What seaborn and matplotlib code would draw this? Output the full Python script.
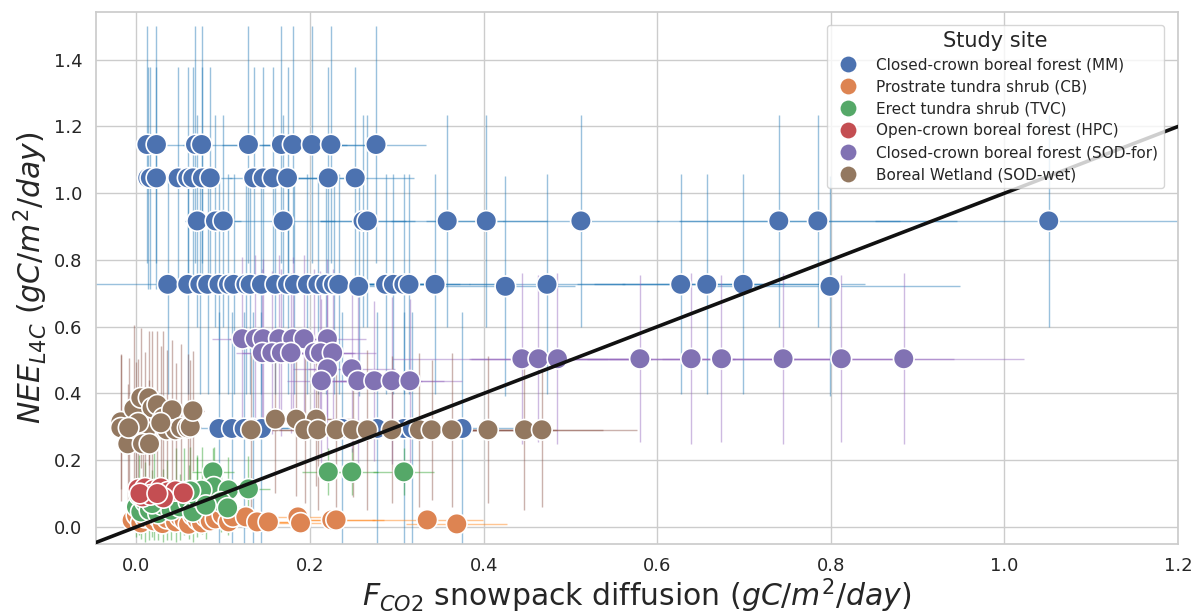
import numpy as np
import pandas as pd
import matplotlib
matplotlib.use("Agg")
import matplotlib.pyplot as plt
import seaborn as sns

# Study sites, in legend order
sites = [
    "Closed-crown boreal forest (MM)",
    "Prostrate tundra shrub (CB)",
    "Erect tundra shrub (TVC)",
    "Open-crown boreal forest (HPC)",
    "Closed-crown boreal forest (SOD-for)",
    "Boreal Wetland (SOD-wet)",
]

# ---- Closed-crown boreal forest (MM) ----
mm_x = [0.012, 0.023, 0.068, 0.075, 0.129, 0.167, 0.180, 0.202, 0.224, 0.276,
        0.013, 0.016, 0.023, 0.048, 0.059, 0.065, 0.076, 0.085, 0.135, 0.146, 0.157, 0.174, 0.221, 0.252,
        0.070, 0.091, 0.100, 0.169, 0.261, 0.266, 0.358, 0.403, 0.512, 0.740, 0.785, 1.051,
        0.036, 0.059, 0.073, 0.082, 0.095, 0.106, 0.112, 0.126, 0.131, 0.144, 0.160, 0.174, 0.182, 0.197,
        0.209, 0.218, 0.227, 0.233, 0.287, 0.296, 0.308, 0.314, 0.344, 0.473, 0.627, 0.657, 0.699,
        0.256, 0.425, 0.799,
        0.095, 0.110, 0.124, 0.134, 0.144, 0.237, 0.277, 0.308, 0.318, 0.375]
mm_y = [1.146, 1.146, 1.146, 1.146, 1.146, 1.146, 1.146, 1.146, 1.146, 1.146,
        1.046, 1.046, 1.046, 1.046, 1.046, 1.046, 1.046, 1.046, 1.046, 1.046, 1.046, 1.046, 1.046, 1.046,
        0.917, 0.917, 0.917, 0.917, 0.917, 0.917, 0.917, 0.917, 0.917, 0.917, 0.917, 0.917,
        0.727, 0.727, 0.727, 0.727, 0.727, 0.727, 0.727, 0.727, 0.727, 0.727, 0.727, 0.727, 0.727, 0.727,
        0.727, 0.727, 0.727, 0.727, 0.727, 0.727, 0.727, 0.727, 0.727, 0.727, 0.727, 0.727, 0.727,
        0.721, 0.721, 0.721,
        0.295, 0.295, 0.295, 0.295, 0.295, 0.295, 0.295, 0.295, 0.295, 0.295]
mm_xerr = [0.004, 0.006, 0.014, 0.045, 0.030, 0.028, 0.035, 0.040, 0.045, 0.057,
           0.004, 0.005, 0.006, 0.012, 0.015, 0.016, 0.020, 0.025, 0.028, 0.025, 0.030, 0.035, 0.040, 0.068,
           0.014, 0.016, 0.020, 0.060, 0.050, 0.055, 0.065, 0.070, 0.090, 0.140, 0.160, 0.200,
           0.090, 0.012, 0.015, 0.018, 0.020, 0.022, 0.025, 0.030, 0.028, 0.030, 0.035, 0.035, 0.040, 0.040,
           0.045, 0.045, 0.050, 0.050, 0.060, 0.060, 0.065, 0.070, 0.070, 0.090, 0.120, 0.130, 0.140,
           0.050, 0.080, 0.150,
           0.120, 0.020, 0.025, 0.025, 0.030, 0.045, 0.050, 0.060, 0.060, 0.070]
mm_yerr = [0.355, 0.355, 0.355, 0.355, 0.355, 0.355, 0.355, 0.355, 0.355, 0.355,
           0.333, 0.333, 0.333, 0.333, 0.333, 0.333, 0.333, 0.333, 0.333, 0.333, 0.333, 0.333, 0.333, 0.333,
           0.318, 0.318, 0.318, 0.318, 0.318, 0.318, 0.318, 0.318, 0.318, 0.318, 0.318, 0.318,
           0.330, 0.330, 0.330, 0.330, 0.330, 0.330, 0.330, 0.330, 0.330, 0.330, 0.330, 0.330, 0.330, 0.330,
           0.330, 0.330, 0.330, 0.330, 0.330, 0.330, 0.330, 0.330, 0.330, 0.330, 0.330, 0.330, 0.330,
           0.330, 0.330, 0.330,
           0.350, 0.350, 0.350, 0.350, 0.350, 0.350, 0.350, 0.350, 0.350, 0.350]

# ---- Prostrate tundra shrub (CB) ----
cb_x = [-0.005, 0.000, 0.005, 0.010, 0.015, 0.020, 0.025, 0.030, 0.035, 0.040, 0.045, 0.050,
        0.055, 0.060, 0.065, 0.070, 0.075, 0.080, 0.085, 0.091, 0.099, 0.106, 0.111, 0.126,
        0.139, 0.152, 0.186, 0.189, 0.225, 0.230, 0.335, 0.369]
cb_y = [0.020, 0.035, 0.012, 0.028, 0.040, 0.018, 0.030, 0.010, 0.025, 0.040, 0.015, 0.030,
        0.020, 0.008, 0.035, 0.022, 0.012, 0.030, 0.018, 0.024, 0.036, 0.015, 0.030, 0.030,
        0.015, 0.015, 0.030, 0.012, 0.021, 0.021, 0.021, 0.009]
cb_xerr = [0.003, 0.004, 0.004, 0.005, 0.006, 0.006, 0.007, 0.008, 0.008, 0.010, 0.010, 0.012,
           0.012, 0.014, 0.014, 0.016, 0.016, 0.018, 0.020, 0.020, 0.022, 0.025, 0.030, 0.030,
           0.035, 0.035, 0.045, 0.050, 0.050, 0.055, 0.064, 0.058]
cb_yerr = [0.008, 0.010, 0.008, 0.009, 0.010, 0.008, 0.009, 0.007, 0.009, 0.010, 0.008, 0.009,
           0.008, 0.006, 0.010, 0.008, 0.007, 0.009, 0.008, 0.008, 0.010, 0.007, 0.009, 0.009,
           0.007, 0.007, 0.009, 0.006, 0.008, 0.008, 0.008, 0.006]

# ---- Erect tundra shrub (TVC) ----
tvc_x = [0.088, 0.070, 0.089, 0.106, 0.097, 0.105, 0.129, 0.221, 0.248, 0.308,
         0.000, 0.005, 0.010, 0.015, 0.020, 0.025, 0.030, 0.035, 0.040, 0.045,
         0.050, 0.055, 0.060, 0.065, 0.070, 0.075, 0.080, 0.062, 0.003, 0.018]
tvc_y = [0.165, 0.105, 0.120, 0.111, 0.075, 0.057, 0.114, 0.165, 0.165, 0.165,
         0.060, 0.045, 0.075, 0.050, 0.090, 0.040, 0.065, 0.080, 0.050, 0.095,
         0.060, 0.105, 0.075, 0.045, 0.090, 0.110, 0.065, 0.108, 0.095, 0.070]
tvc_xerr = [0.024, 0.015, 0.020, 0.022, 0.018, 0.020, 0.025, 0.030, 0.030, 0.035,
            0.003, 0.004, 0.004, 0.005, 0.005, 0.006, 0.006, 0.007, 0.008, 0.008,
            0.009, 0.010, 0.010, 0.011, 0.012, 0.012, 0.013, 0.011, 0.003, 0.005]
tvc_yerr = [0.070, 0.110, 0.120, 0.100, 0.090, 0.080, 0.100, 0.070, 0.070, 0.070,
            0.090, 0.080, 0.120, 0.090, 0.130, 0.080, 0.110, 0.120, 0.090, 0.140,
            0.100, 0.130, 0.110, 0.090, 0.120, 0.130, 0.100, 0.130, 0.120, 0.100]

# ---- Open-crown boreal forest (HPC) ----
hpc_x = [0.002, 0.010, 0.020, 0.028, 0.036, 0.045, 0.054, 0.031, 0.007, 0.016, 0.004, 0.024]
hpc_y = [0.114, 0.117, 0.111, 0.117, 0.105, 0.108, 0.102, 0.087, 0.090, 0.096, 0.100, 0.100]
hpc_xerr = [0.003, 0.004, 0.005, 0.006, 0.007, 0.008, 0.009, 0.006, 0.003, 0.004, 0.003, 0.005]
hpc_yerr = [0.030, 0.030, 0.028, 0.030, 0.026, 0.028, 0.025, 0.022, 0.022, 0.024, 0.025, 0.025]

# ---- Closed-crown boreal forest (SOD-for) ----
sodf_x = [0.122, 0.137, 0.146, 0.164, 0.180, 0.193, 0.220,
          0.145, 0.156, 0.167, 0.178, 0.205, 0.212, 0.226,
          0.220, 0.248,
          0.213, 0.255, 0.274, 0.294, 0.315,
          0.444, 0.463, 0.485, 0.580, 0.639, 0.674, 0.745, 0.812, 0.884]
sodf_y = [0.564, 0.564, 0.564, 0.564, 0.564, 0.564, 0.564,
          0.522, 0.522, 0.522, 0.522, 0.522, 0.522, 0.522,
          0.474, 0.474,
          0.438, 0.438, 0.438, 0.438, 0.438,
          0.504, 0.504, 0.504, 0.504, 0.504, 0.504, 0.504, 0.504, 0.504]
sodf_xerr = [0.035, 0.030, 0.030, 0.035, 0.040, 0.040, 0.045,
             0.030, 0.035, 0.035, 0.040, 0.045, 0.040, 0.050,
             0.040, 0.050,
             0.040, 0.050, 0.055, 0.060, 0.060,
             0.150, 0.080, 0.100, 0.110, 0.120, 0.130, 0.140, 0.130, 0.138]
sodf_yerr = [0.245, 0.250, 0.240, 0.250, 0.245, 0.250, 0.240,
             0.250, 0.245, 0.250, 0.240, 0.250, 0.245, 0.250,
             0.240, 0.250,
             0.245, 0.250, 0.240, 0.250, 0.245,
             0.256, 0.250, 0.256, 0.250, 0.256, 0.250, 0.256, 0.250, 0.256]

# ---- Boreal Wetland (SOD-wet) ----
sodw_x = [-0.018, -0.018, -0.010, -0.003, 0.005, -0.001, 0.010, 0.007, 0.015, 0.014, 0.018, 0.024,
          0.031, 0.035, 0.041, 0.045, 0.051, 0.059, 0.062, 0.065, 0.028, 0.002, -0.009,
          0.160, 0.184, 0.207,
          0.132, 0.194, 0.209, 0.230, 0.249, 0.266, 0.294, 0.326, 0.340, 0.363, 0.405, 0.447, 0.467]
sodw_y = [0.315, 0.297, 0.249, 0.354, 0.387, 0.294, 0.285, 0.249, 0.249, 0.387, 0.357, 0.366,
          0.327, 0.291, 0.351, 0.291, 0.297, 0.297, 0.300, 0.348, 0.312, 0.312, 0.297,
          0.323, 0.323, 0.323,
          0.291, 0.291, 0.291, 0.291, 0.291, 0.291, 0.291, 0.291, 0.291, 0.291, 0.291, 0.291, 0.291]
sodw_xerr = [0.004, 0.005, 0.004, 0.003, 0.003, 0.004, 0.005, 0.004, 0.005, 0.004, 0.005, 0.006,
             0.006, 0.007, 0.008, 0.008, 0.010, 0.012, 0.012, 0.013, 0.006, 0.003, 0.004,
             0.035, 0.040, 0.045,
             0.030, 0.040, 0.045, 0.050, 0.050, 0.055, 0.060, 0.065, 0.070, 0.075, 0.080, 0.090, 0.110]
sodw_yerr = [0.200, 0.220, 0.180, 0.250, 0.210, 0.200, 0.240, 0.170, 0.190, 0.200, 0.230, 0.220,
             0.260, 0.240, 0.210, 0.200, 0.250, 0.220, 0.200, 0.180, 0.230, 0.190, 0.210,
             0.220, 0.230, 0.200,
             0.230, 0.220, 0.240, 0.230, 0.200, 0.240, 0.220, 0.230, 0.210, 0.230, 0.220, 0.240, 0.230]

site_data = [
    (mm_x, mm_y, mm_xerr, mm_yerr),
    (cb_x, cb_y, cb_xerr, cb_yerr),
    (tvc_x, tvc_y, tvc_xerr, tvc_yerr),
    (hpc_x, hpc_y, hpc_xerr, hpc_yerr),
    (sodf_x, sodf_y, sodf_xerr, sodf_yerr),
    (sodw_x, sodw_y, sodw_xerr, sodw_yerr),
]

sns.set_theme(style="whitegrid")
plt.rcParams["font.family"] = ["DejaVu Sans"]

fig, ax = plt.subplots(figsize=(11.96, 6.16), dpi=100)
fig.subplots_adjust(left=0.080, right=0.985, bottom=0.117, top=0.981)

# uncertainty bars beneath the markers
err_colors = ["tab:blue", "tab:orange", "tab:green", "tab:red", "tab:purple", "tab:brown"]
for (x, y, xe, ye), c in zip(site_data, err_colors):
    ax.errorbar(x, y, xerr=xe, yerr=ye, fmt="none", ecolor=c,
                elinewidth=1.0, alpha=0.45, zorder=1)

frames = []
for name, (x, y, xe, ye) in zip(sites, site_data):
    frames.append(pd.DataFrame({"x": x, "y": y, "site": name}))
df = pd.concat(frames, ignore_index=True)

sns.scatterplot(data=df, x="x", y="y", hue="site", hue_order=sites,
                palette="deep", s=220, edgecolor="white", linewidth=1.2,
                ax=ax, zorder=3)

# 1:1 line
ax.axline((0, 0), slope=1, color="#111111", lw=2.6, zorder=4)

ax.set_xlim(-0.047, 1.2)
ax.set_ylim(-0.051, 1.544)
ax.set_xticks([0.0, 0.2, 0.4, 0.6, 0.8, 1.0, 1.2])
ax.set_yticks([0.0, 0.2, 0.4, 0.6, 0.8, 1.0, 1.2, 1.4])
ax.tick_params(labelsize=13)

ax.set_xlabel(r"$F_{CO2}$ snowpack diffusion ($gC/m^2/day$)", fontsize=21.5, labelpad=1)
ax.set_ylabel(r"$NEE_{L4C}$ ($gC/m^2/day$)", fontsize=21.5, labelpad=3)

sns.move_legend(ax, "upper right", bbox_to_anchor=(0.994, 0.99),
                title="Study site", fontsize=11, title_fontsize=15,
                markerscale=0.85, frameon=True, labelspacing=0.45)

fig.savefig("out.png", dpi=100)
